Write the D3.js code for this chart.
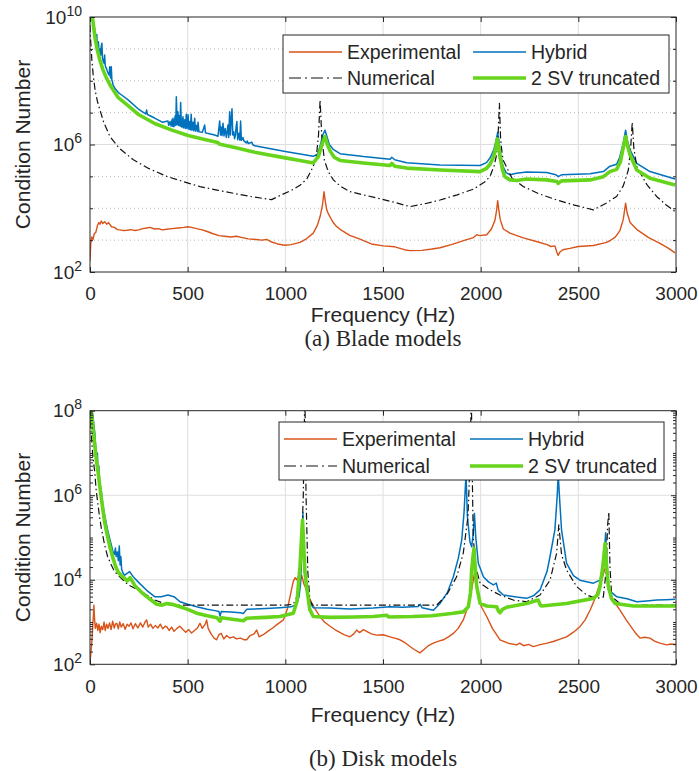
<!DOCTYPE html>
<html>
<head>
<meta charset="utf-8">
<script src="https://cdn.jsdelivr.net/npm/d3@7"></script>
<style>
  body { margin: 0; background: #fff; }
  text { font-family: "Liberation Sans", Arial, Helvetica, sans-serif; fill: #262626; }
</style>
</head>
<body>
<svg id="fig" width="699" height="771"></svg>
<script>
// ---------- data (frequency in Hz, log10 of condition number) ----------
const freqTicks = [0, 500, 1000, 1500, 2000, 2500, 3000];
const seriesNames = ["Experimental", "Hybrid", "Numerical", "2 SV truncated"];
const captions = ["(a) Blade models", "(b) Disk models"];
const bladeTickExps = [2, 6, 10];
const diskTickExps = [2, 4, 6, 8];

const bladeExperimental = [
  [0,2.35],[4,2.9],[9,3.1],[15,3.02],[22,3.2],[30,3.25],[38,3.45],[45,3.55],[51,3.5],[58,3.6],[66,3.52],[75,3.58],
  [85,3.5],[95,3.55],[110,3.42],[125,3.4],[140,3.33],[154,3.32],[170,3.3],[190,3.31],[210,3.33],[230,3.3],[250,3.32],
  [270,3.36],[290,3.38],[307,3.4],[330,3.35],[350,3.36],[370,3.32],[393,3.34],[420,3.36],[450,3.38],[480,3.4],
  [500,3.42],[520,3.4],[545,3.36],[570,3.33],[600,3.27],[630,3.2],[660,3.14],[690,3.12],[720,3.1],[750,3.12],
  [780,3.08],[810,3.04],[850,3.02],[880,3.0],[905,3.02],[930,2.94],[960,2.88],[998,2.84],[1030,2.86],[1075,2.93],
  [1110,3.05],[1143,3.22],[1165,3.48],[1178,3.74],[1190,4.1],[1198,4.52],[1205,4.2],[1212,3.95],[1220,3.83],
  [1240,3.6],[1260,3.44],[1280,3.34],[1330,3.15],[1382,3.03],[1440,2.88],[1502,2.82],[1560,2.79],[1610,2.7],
  [1638,2.67],[1700,2.68],[1750,2.72],[1792,2.76],[1850,2.86],[1920,3.0],[1963,3.08],[1980,3.17],[1995,3.14],
  [2031,3.17],[2055,3.35],[2073,3.62],[2082,3.95],[2087,4.24],[2093,3.95],[2100,3.65],[2116,3.35],[2150,3.22],
  [2218,3.07],[2290,2.95],[2340,2.86],[2360,2.8],[2380,2.82],[2390,2.62],[2397,2.52],[2405,2.62],[2420,2.7],
  [2457,2.74],[2500,2.8],[2577,2.83],[2640,2.92],[2662,2.98],[2690,3.1],[2713,3.3],[2730,3.65],[2742,4.16],
  [2750,3.85],[2765,3.55],[2800,3.33],[2860,3.08],[2918,2.9],[2960,2.75],[2995,2.6]
];

const bladeHybrid = [
  [2,10.3],[10,9.95],[16,9.88],[20,9.75],[24,9.62],[27,9.5],[30,9.35],[33,9.2],[35,9.45],[37,9.08],[40,9.02],
  [43,9.22],[46,8.94],[50,8.85],[53,9.0],[55,8.8],[58,9.1],[61,9.18],[64,8.72],[68,8.6],[72,8.55],[75,8.81],
  [78,8.48],[81,8.42],[84,8.39],[87,8.33],[90,8.28],[94,8.22],[98,8.18],[101,8.44],[104,8.12],[107,8.08],
  [109,8.44],[112,8.02],[115,7.97],[118,7.87],[122,7.82],[130,7.74],[145,7.63],[160,7.56],[195,7.4],[246,7.12],
  [285,6.96],[290,7.08],[294,6.94],[331,6.83],[370,6.7],[399,6.74],[403,6.6],[410,6.72],[415,6.58],[420,6.78],
  [424,6.57],[425,6.82],[430,6.56],[436,6.9],[439,6.6],[442,7.5],[446,6.62],[450,7.03],[454,6.6],[458,6.9],
  [461,6.58],[464,7.32],[468,6.55],[472,6.8],[474,6.55],[476,6.87],[480,6.52],[485,6.78],[489,6.5],[493,6.95],
  [497,6.5],[502,6.93],[506,6.48],[510,6.72],[514,6.46],[518,6.95],[522,6.45],[527,6.7],[531,6.43],[536,6.82],
  [540,6.42],[546,6.6],[550,6.41],[553,6.7],[558,6.4],[575,6.38],[587,6.61],[591,6.37],[600,6.35],[638,6.3],
  [655,6.26],[664,6.74],[668,6.3],[672,6.55],[676,6.28],[681,6.67],[686,6.27],[692,6.5],[698,6.22],[706,6.61],
  [710,6.22],[715,7.03],[719,6.3],[723,6.8],[727,7.12],[731,6.3],[736,6.4],[740,6.18],[745,6.3],[748,6.55],
  [752,6.72],[756,6.15],[762,6.35],[767,6.14],[771,6.74],[775,6.13],[783,6.22],[787,6.12],[800,6.05],[805,6.11],
  [810,6.03],[829,6.07],[833,6.0],[843,5.96],[911,5.88],[1000,5.78],[1075,5.7],[1143,5.63],[1165,5.7],
  [1180,6.0],[1192,6.3],[1203,6.45],[1213,6.25],[1225,6.0],[1245,5.85],[1280,5.71],[1400,5.62],[1536,5.54],
  [1545,5.6],[1560,5.52],[1621,5.43],[1792,5.36],[1997,5.34],[2030,5.43],[2050,5.6],[2068,5.85],[2080,6.15],
  [2087,6.38],[2094,6.1],[2102,5.7],[2115,5.3],[2130,5.12],[2150,5.05],[2184,5.1],[2235,5.14],[2338,5.12],
  [2385,5.05],[2397,4.99],[2414,5.05],[2560,5.08],[2628,5.15],[2662,5.32],[2696,5.38],[2712,5.6],[2730,6.05],
  [2742,6.45],[2752,6.1],[2765,5.83],[2799,5.41],[2867,5.15],[2995,4.92]
];

const bladeNumerical = [
  [0,9.75],[3,9.3],[9,8.7],[16,8.2],[26,7.71],[38,7.35],[51,7.08],[70,6.7],[102,6.25],[150,5.88],[222,5.52],
  [300,5.25],[393,5.0],[480,4.83],[563,4.68],[650,4.57],[734,4.47],[820,4.37],[905,4.29],[930,4.27],[980,4.42],
  [1030,4.56],[1075,4.72],[1110,4.92],[1143,5.31],[1160,5.7],[1170,6.3],[1178,7.4],[1186,6.3],[1200,5.5],
  [1220,5.15],[1246,4.89],[1280,4.7],[1331,4.52],[1400,4.42],[1450,4.35],[1550,4.2],[1638,4.05],[1720,4.15],
  [1792,4.26],[1880,4.42],[1963,4.6],[2020,4.82],[2048,5.0],[2070,5.35],[2082,5.7],[2090,6.4],[2096,7.29],
  [2102,6.2],[2110,5.7],[2116,5.5],[2160,4.95],[2218,4.68],[2300,4.45],[2390,4.26],[2480,4.1],[2577,3.95],
  [2640,4.15],[2696,4.37],[2730,4.7],[2756,5.2],[2768,5.9],[2776,6.7],[2784,5.9],[2799,5.31],[2850,4.75],
  [2901,4.37],[2950,4.1],[2995,3.9]
];

const bladeTruncated = [
  [5,10.2],[15,9.88],[20,9.62],[27,9.3],[37,8.98],[50,8.66],[66,8.35],[84,8.09],[109,7.8],[143,7.48],[195,7.22],
  [246,6.95],[331,6.66],[416,6.46],[502,6.28],[587,6.16],[655,6.06],[660,6.02],[672,6.0],[758,5.88],[843,5.76],
  [911,5.68],[1000,5.58],[1075,5.5],[1143,5.42],[1169,5.62],[1190,6.05],[1203,6.25],[1215,6.0],[1229,5.8],
  [1250,5.6],[1280,5.5],[1400,5.42],[1536,5.34],[1545,5.41],[1560,5.32],[1621,5.26],[1792,5.2],[1997,5.15],
  [2030,5.25],[2048,5.38],[2065,5.6],[2078,5.9],[2085,6.18],[2092,5.95],[2099,5.62],[2112,5.2],[2124,4.99],
  [2150,4.89],[2184,4.87],[2235,4.92],[2338,4.89],[2390,4.84],[2397,4.78],[2414,4.86],[2560,4.89],[2628,4.99],
  [2662,5.15],[2696,5.22],[2715,5.45],[2730,5.9],[2742,6.25],[2752,5.95],[2765,5.67],[2799,5.2],[2867,4.94],
  [2995,4.73]
];

const diskExperimental = [
  [0,2.02],[5,2.3],[9,2.5],[14,2.9],[18,3.2],[20,3.4],[23,3.1],[27,2.85],[34,2.97],[40,2.8],[46,2.95],[52,2.75],
  [58,2.9],[65,2.82],[72,3.0],[78,2.8],[85,2.95],[92,2.85],[100,2.98],[108,2.82],[116,3.02],[124,2.86],[130,2.95],
  [137,2.97],[145,2.84],[152,3.0],[160,2.88],[170,2.96],[180,2.83],[190,2.95],[200,2.9],[210,2.98],[220,2.84],
  [232,2.96],[245,2.86],[258,2.98],[270,2.88],[282,3.0],[290,3.05],[298,2.88],[310,2.95],[322,2.85],[335,2.92],
  [348,2.86],[360,2.95],[372,2.84],[385,2.9],[393,2.89],[405,2.8],[418,2.88],[430,2.78],[445,2.85],[460,2.9],
  [478,2.81],[490,2.76],[505,2.82],[520,2.74],[535,2.8],[550,2.86],[563,2.97],[575,2.85],[590,2.95],[597,3.05],
  [605,2.85],[620,2.72],[635,2.62],[648,2.58],[660,2.7],[672,2.73],[685,2.6],[700,2.68],[715,2.62],[734,2.65],
  [750,2.6],[770,2.62],[790,2.58],[802,2.58],[820,2.68],[840,2.72],[853,2.81],[866,2.65],[887,2.7],[910,2.78],
  [935,2.86],[960,2.95],[990,3.05],[1010,3.3],[1024,3.6],[1040,3.95],[1050,4.05],[1058,4.0],[1068,4.08],
  [1076,3.95],[1084,4.1],[1095,3.9],[1109,3.76],[1125,3.55],[1143,3.38],[1160,3.25],[1178,3.13],[1200,3.0],
  [1229,2.9],[1260,2.8],[1300,2.7],[1331,2.65],[1350,2.72],[1365,2.81],[1380,2.75],[1400,2.82],[1416,2.78],
  [1440,2.72],[1468,2.69],[1500,2.7],[1536,2.65],[1560,2.62],[1587,2.58],[1610,2.52],[1638,2.42],[1660,2.35],
  [1689,2.27],[1710,2.35],[1735,2.45],[1758,2.5],[1785,2.55],[1809,2.58],[1835,2.65],[1860,2.73],[1885,2.85],
  [1911,3.05],[1930,3.3],[1945,3.52],[1955,3.8],[1962,3.99],[1968,4.15],[1975,3.9],[1988,3.6],[2005,3.35],
  [2031,3.13],[2060,2.85],[2099,2.58],[2140,2.5],[2184,2.46],[2200,2.5],[2220,2.44],[2245,2.47],[2270,2.42],
  [2300,2.46],[2340,2.5],[2372,2.54],[2410,2.6],[2440,2.65],[2475,2.76],[2508,2.89],[2535,3.05],[2560,3.28],
  [2580,3.5],[2594,3.68],[2610,3.9],[2620,3.99],[2632,4.2],[2640,4.3],[2650,4.0],[2662,3.68],[2688,3.45],
  [2713,3.28],[2745,3.05],[2782,2.81],[2800,2.7],[2816,2.62],[2840,2.64],[2867,2.62],[2890,2.55],[2918,2.5],
  [2952,2.46],[2975,2.48],[3000,2.47]
];

const diskHybrid = [
  [0,8.3],[8,8.0],[15,7.9],[20,7.65],[24,7.5],[30,7.1],[35,6.8],[38,7.0],[41,6.56],[45,6.7],[50,6.3],[58,6.08],
  [65,5.8],[75,5.53],[85,5.3],[92,5.14],[105,4.9],[118,4.66],[125,4.6],[130,4.75],[134,4.55],[140,4.66],
  [145,4.45],[150,4.8],[154,4.35],[158,4.55],[162,4.25],[170,4.15],[178,4.11],[190,4.15],[203,4.19],[220,4.08],
  [246,3.95],[290,3.75],[331,3.6],[365,3.6],[399,3.64],[430,3.6],[461,3.48],[500,3.42],[546,3.36],[600,3.3],
  [640,3.27],[660,3.25],[666,3.14],[672,3.25],[720,3.24],[770,3.22],[785,3.2],[802,3.3],[900,3.32],[973,3.34],
  [1030,3.36],[1058,3.42],[1070,3.6],[1078,3.9],[1084,4.6],[1090,5.59],[1095,4.6],[1105,3.84],[1120,3.5],
  [1143,3.34],[1229,3.33],[1331,3.31],[1450,3.33],[1536,3.36],[1600,3.35],[1680,3.37],[1690,3.42],[1700,3.34],
  [1758,3.28],[1792,3.44],[1830,3.7],[1860,4.07],[1885,4.5],[1903,4.94],[1915,5.6],[1925,6.5],[1932,5.5],
  [1945,4.9],[1954,4.78],[1962,5.1],[1968,5.57],[1975,5.0],[1988,4.39],[2014,4.07],[2040,3.95],[2065,3.88],
  [2080,3.92],[2090,3.75],[2116,3.64],[2184,3.59],[2235,3.56],[2270,3.62],[2304,3.76],[2340,4.2],[2355,4.55],
  [2380,5.18],[2392,6.0],[2397,6.5],[2403,6.0],[2414,5.18],[2440,4.39],[2475,4.1],[2508,3.99],[2577,3.92],
  [2611,3.99],[2625,4.3],[2632,4.6],[2640,5.11],[2645,4.6],[2654,3.76],[2696,3.6],[2750,3.55],[2799,3.48],
  [2850,3.5],[2901,3.52],[2950,3.53],[2995,3.54]
];

const diskNumerical = [
  [0,8.1],[5,7.6],[10,7.2],[15,6.9],[24,6.56],[32,6.1],[41,5.77],[50,5.45],[58,5.22],[75,4.82],[90,4.55],
  [109,4.35],[125,4.2],[143,4.11],[195,3.88],[263,3.72],[331,3.52],[380,3.44],[416,3.4],[600,3.4],[800,3.4],
  [1000,3.4],[1040,3.42],[1060,3.6],[1080,4.3],[1092,6.0],[1100,8.5],[1106,6.0],[1115,4.2],[1126,3.5],
  [1140,3.4],[1400,3.4],[1600,3.4],[1775,3.4],[1826,3.64],[1877,4.07],[1911,4.63],[1935,5.5],[1947,7.0],
  [1952,8.5],[1957,6.5],[1962,5.0],[1975,4.3],[1997,3.92],[2048,3.76],[2099,3.64],[2167,3.52],[2235,3.48],
  [2304,3.64],[2355,3.99],[2389,4.63],[2400,5.3],[2414,4.6],[2440,4.23],[2491,3.84],[2542,3.64],[2594,3.56],
  [2628,3.59],[2642,4.2],[2650,5.3],[2656,5.6],[2662,4.3],[2671,3.6],[2713,3.44],[2782,3.38],[2850,3.4],
  [3000,3.4]
];

const diskTruncated = [
  [0,8.3],[7,7.98],[15,7.6],[24,7.19],[32,6.85],[41,6.56],[50,6.22],[58,5.93],[66,5.65],[75,5.37],[84,5.15],
  [92,4.98],[105,4.72],[118,4.51],[130,4.33],[143,4.19],[160,4.1],[178,4.03],[190,3.97],[205,4.05],[230,3.86],
  [260,3.72],[290,3.6],[341,3.42],[370,3.4],[393,3.44],[420,3.42],[461,3.36],[500,3.3],[546,3.21],[600,3.15],
  [650,3.1],[666,3.02],[672,3.1],[720,3.07],[785,3.03],[802,3.09],[900,3.11],[973,3.13],[1041,3.21],[1060,3.5],
  [1075,4.31],[1083,5.0],[1088,5.41],[1094,4.8],[1100,4.2],[1109,3.84],[1125,3.3],[1143,3.13],[1229,3.11],
  [1350,3.12],[1450,3.13],[1519,3.16],[1530,3.12],[1650,3.13],[1750,3.15],[1850,3.2],[1911,3.24],[1937,3.36],
  [1948,3.7],[1954,4.23],[1962,4.6],[1966,4.74],[1972,4.3],[1980,3.84],[1997,3.44],[2031,3.38],[2082,3.36],
  [2092,3.25],[2099,3.22],[2112,3.3],[2133,3.35],[2235,3.44],[2295,3.52],[2305,3.4],[2312,3.38],[2440,3.44],
  [2577,3.56],[2600,3.65],[2611,3.84],[2625,4.3],[2637,4.86],[2645,4.3],[2654,3.84],[2670,3.55],[2688,3.44],
  [2782,3.38],[3000,3.38]
];

// ---------- styling ----------
const seriesStyle = [
  { color: "#D95319", width: 1.4, dash: null },
  { color: "#0072BD", width: 1.5, dash: null },
  { color: "#111111", width: 1.2, dash: "7,3,1.5,3" },
  { color: "#66D41A", width: 3.6, dash: null }
];
const axisColor = "#262626";
const tickFont = 19, labelFont = 21;

const svg = d3.select("#fig");

function drawPanel(opt) {
  const { id, left, right, top, bottom, tickExps, minorDecadeGrid, data, legend, caption, xLabelY, captionY } = opt;
  const yMin = 10 ** tickExps[0], yMax = 10 ** tickExps[tickExps.length - 1];
  const x = d3.scaleLinear().domain([0, 3000]).range([left, right]);
  const y = d3.scaleLog().domain([yMin, yMax]).range([bottom, top]);
  const g = svg.append("g");

  g.append("clipPath").attr("id", id).append("rect")
    .attr("x", left).attr("y", top).attr("width", right - left).attr("height", bottom - top);

  // decade and sub-decade positions
  const decades = d3.range(tickExps[0], tickExps[tickExps.length - 1] + 1);
  const minorDecades = decades.filter(e => !tickExps.includes(e));
  let minorVals;
  if (minorDecadeGrid) {
    minorVals = minorDecades.map(e => 10 ** e);
  } else {
    minorVals = [];
    decades.slice(0, -1).forEach(e => {
      for (let k = 2; k <= 9; k++) minorVals.push(k * 10 ** e);
    });
    minorDecades.forEach(e => minorVals.push(10 ** e));
  }

  // grid
  const grid = g.append("g");
  grid.selectAll(".gx").data(freqTicks.slice(1, -1)).join("line")
    .attr("x1", d => x(d)).attr("x2", d => x(d)).attr("y1", top).attr("y2", bottom)
    .attr("stroke", "#dedede").attr("stroke-width", 1);
  grid.selectAll(".gy").data(tickExps.slice(1, -1)).join("line")
    .attr("x1", left).attr("x2", right).attr("y1", d => y(10 ** d)).attr("y2", d => y(10 ** d))
    .attr("stroke", "#dedede").attr("stroke-width", 1);
  if (minorDecadeGrid) {
    grid.selectAll(".gm").data(minorVals).join("line")
      .attr("x1", left).attr("x2", right).attr("y1", d => y(d)).attr("y2", d => y(d))
      .attr("stroke", "#b8b8b8").attr("stroke-width", 1).attr("stroke-dasharray", "1,3");
  }

  // series
  const line = d3.line().x(d => x(d[0])).y(d => y(10 ** d[1]));
  const plot = g.append("g").attr("clip-path", `url(#${id})`);
  data.forEach((s, i) => {
    const st = seriesStyle[i];
    plot.append("path").datum(s).attr("d", line)
      .attr("fill", "none").attr("stroke", st.color).attr("stroke-width", st.width)
      .attr("stroke-linejoin", "round")
      .attr("stroke-dasharray", st.dash);
  });

  // axes
  const fmt = () => "";
  const styleAxis = sel => {
    sel.select(".domain").remove();
    sel.selectAll("line").attr("stroke", axisColor);
    sel.selectAll("text").attr("fill", axisColor).style("font-size", tickFont + "px")
      .style("font-family", '"Liberation Sans", Arial, sans-serif');
  };
  g.append("g").attr("transform", `translate(0,${bottom})`)
    .call(d3.axisBottom(x).tickValues(freqTicks).tickSizeInner(-5).tickSizeOuter(0).tickPadding(15).tickFormat(d3.format("d")))
    .call(styleAxis);
  g.append("g").attr("transform", `translate(0,${top})`)
    .call(d3.axisTop(x).tickValues(freqTicks).tickSizeInner(-5).tickSizeOuter(0).tickFormat(fmt))
    .call(styleAxis);
  const yAxis = g.append("g").attr("transform", `translate(${left},0)`)
    .call(d3.axisLeft(y).tickValues(tickExps.map(e => 10 ** e)).tickSizeInner(-5).tickSizeOuter(0).tickPadding(8).tickFormat(fmt))
    .call(styleAxis);
  yAxis.selectAll(".tick text").each(function (d) {
    const t = d3.select(this);
    t.append("tspan").text("10");
    t.append("tspan").attr("dy", -8).style("font-size", "14px").text(Math.round(Math.log10(d)));
  });
  g.append("g").attr("transform", `translate(${left},0)`)
    .call(d3.axisLeft(y).tickValues(minorVals).tickSizeInner(-3).tickSizeOuter(0).tickFormat(fmt))
    .call(styleAxis);
  g.append("g").attr("transform", `translate(${right},0)`)
    .call(d3.axisRight(y).tickValues(tickExps.map(e => 10 ** e)).tickSizeInner(-5).tickSizeOuter(0).tickFormat(fmt))
    .call(styleAxis);
  g.append("g").attr("transform", `translate(${right},0)`)
    .call(d3.axisRight(y).tickValues(minorVals).tickSizeInner(-3).tickSizeOuter(0).tickFormat(fmt))
    .call(styleAxis);

  // frame
  g.append("rect").attr("x", left).attr("y", top).attr("width", right - left).attr("height", bottom - top)
    .attr("fill", "none").attr("stroke", axisColor).attr("stroke-width", 1);

  // axis titles
  g.append("text").attr("x", (left + right) / 2).attr("y", xLabelY)
    .attr("text-anchor", "middle").style("font-size", labelFont + "px").text("Frequency (Hz)");
  g.append("text").attr("transform", `translate(30,${(top + bottom) / 2}) rotate(-90)`)
    .attr("text-anchor", "middle").style("font-size", labelFont + "px").text("Condition Number");

  // legend
  const L = legend;
  const lg = g.append("g");
  lg.append("rect").attr("x", L.x0).attr("y", L.y0).attr("width", L.x1 - L.x0).attr("height", L.y1 - L.y0)
    .attr("fill", "#fff").attr("stroke", axisColor).attr("stroke-width", 1);
  const cols = [L.c1, L.c2];
  const rows = [L.r1, L.r2];
  seriesNames.forEach((name, i) => {
    const c = cols[i % 2], r = rows[Math.floor(i / 2)];
    const st = seriesStyle[i];
    lg.append("line").attr("x1", c).attr("x2", c + 53).attr("y1", r).attr("y2", r)
      .attr("stroke", st.color).attr("stroke-width", st.width).attr("stroke-dasharray", st.dash ? "12,4,2,4" : null);
    lg.append("text").attr("x", c + 58).attr("y", r).attr("dy", "0.35em")
      .style("font-size", "19.5px").attr("fill", "#000").text(name);
  });

  // caption
  svg.append("text").attr("x", (left + right) / 2).attr("y", captionY).attr("text-anchor", "middle")
    .style("font-family", '"Liberation Serif", "Times New Roman", serif').style("font-size", "23px")
    .attr("fill", "#000").text(caption);
}

drawPanel({
  id: "clipA", left: 90, right: 676, top: 17, bottom: 272, tickExps: bladeTickExps, minorDecadeGrid: true,
  data: [bladeExperimental, bladeHybrid, bladeNumerical, bladeTruncated],
  legend: { x0: 283, x1: 669, y0: 35, y1: 93, c1: 289, c2: 473, r1: 52, r2: 78 },
  caption: captions[0], xLabelY: 322, captionY: 346
});

drawPanel({
  id: "clipB", left: 90, right: 676, top: 410.7, bottom: 664.3, tickExps: diskTickExps, minorDecadeGrid: false,
  data: [diskExperimental, diskHybrid, diskNumerical, diskTruncated],
  legend: { x0: 279, x1: 664, y0: 422, y1: 480, c1: 284, c2: 470, r1: 439, r2: 466 },
  caption: captions[1], xLabelY: 722, captionY: 766
});
</script>
</body>
</html>
